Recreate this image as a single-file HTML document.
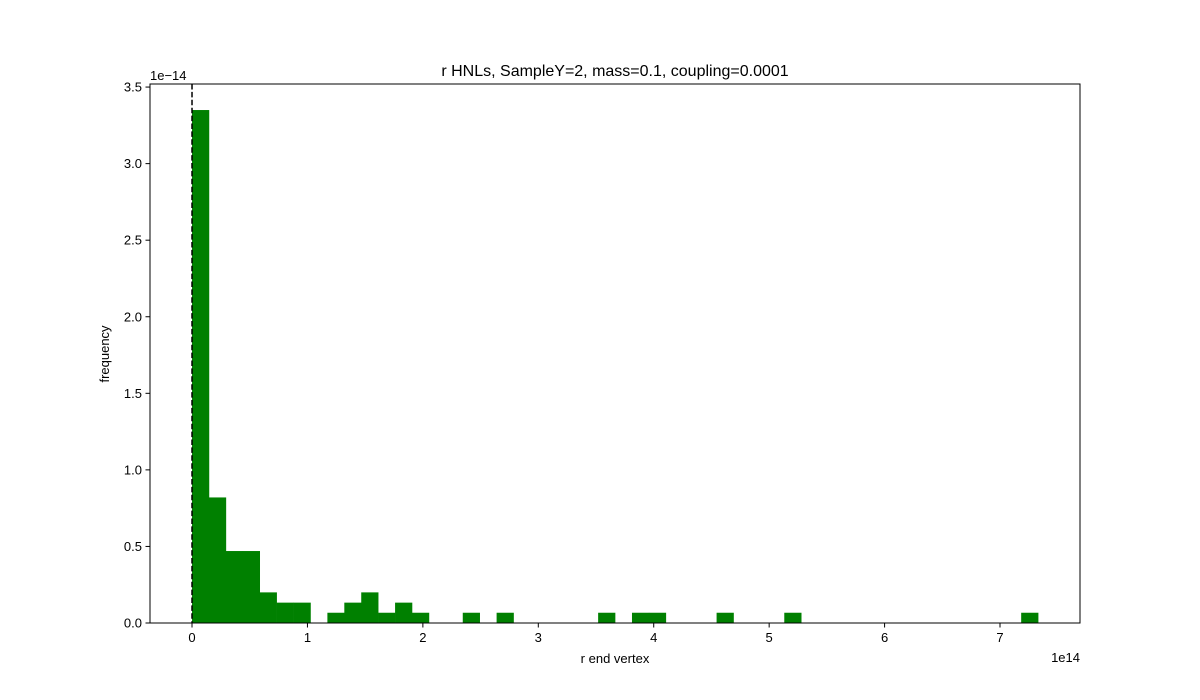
<!DOCTYPE html>
<html><head><meta charset="utf-8"><style>
html,body{margin:0;padding:0;background:#fff;}
svg{display:block;font-family:"Liberation Sans","DejaVu Sans",sans-serif;}
</style></head><body>
<svg id="chart" width="1200" height="700">
<rect width="1200" height="700" fill="#fff"/>
<g id="bars"></g>
<g id="axes"></g>
<text x="615" y="76" text-anchor="middle" font-size="16">r HNLs, SampleY=2, mass=0.1, coupling=0.0001</text>
<text x="615" y="663" text-anchor="middle" font-size="13">r end vertex</text>
<text transform="translate(109,354) rotate(-90)" text-anchor="middle" font-size="13">frequency</text>
<text x="150" y="80" font-size="13">1e−14</text>
<text x="1080" y="662" text-anchor="end" font-size="13">1e14</text>
</svg>
<script>
const binValues = [3.35,0.82,0.47,0.47,0.2,0.133,0.133,0,0.067,0.133,0.2,0.067,0.133,0.067,0,0,0.067,0,0.067,0,0,0,0,0,0.067,0,0.067,0.067,0,0,0,0.067,0,0,0,0.067,0,0,0,0,0,0,0,0,0,0,0,0,0,0.067];
const binStart = 0;
const binEnd = 7.33;
const xTicks = [0,1,2,3,4,5,6,7];
const yTicks = [0,0.5,1.0,1.5,2.0,2.5,3.0,3.5];

const L=150,R=1080,T=84,B=623;
const xMin=-0.364,xMax=7.693,yMin=0,yMax=3.52;
const xs=v=>L+(v-xMin)/(xMax-xMin)*(R-L);
const ys=v=>B-(v-yMin)/(yMax-yMin)*(B-T);
const NS="http://www.w3.org/2000/svg";
const bars=document.getElementById('bars');
const axes=document.getElementById('axes');
const w=(binEnd-binStart)/binValues.length;
binValues.forEach((v,i)=>{
  if(v<=0)return;
  const r=document.createElementNS(NS,'rect');
  const x0=xs(binStart+i*w),x1=xs(binStart+(i+1)*w);
  r.setAttribute('x',x0);r.setAttribute('width',x1-x0+0.3);
  r.setAttribute('y',ys(v));r.setAttribute('height',ys(0)-ys(v));
  r.setAttribute('fill','#008000');
  
  
  bars.appendChild(r);
});
const dl=document.createElementNS(NS,'line');
dl.setAttribute('x1',xs(0));dl.setAttribute('x2',xs(0));dl.setAttribute('y1',T);dl.setAttribute('y2',B);
dl.setAttribute('stroke','#000');dl.setAttribute('stroke-width','1.5');dl.setAttribute('stroke-dasharray','5.5,2.4');


axes.appendChild(dl);
const frame=document.createElementNS(NS,'rect');
frame.setAttribute('x',L);frame.setAttribute('y',T);frame.setAttribute('width',R-L);frame.setAttribute('height',B-T);
frame.setAttribute('fill','none');frame.setAttribute('stroke','#000');frame.setAttribute('stroke-width','1');


axes.appendChild(frame);
xTicks.forEach(t=>{
  const x=xs(t);
  const l=document.createElementNS(NS,'line');
  l.setAttribute('x1',x);l.setAttribute('x2',x);l.setAttribute('y1',B);l.setAttribute('y2',B+4.5);l.setAttribute('stroke','#000');
  
  
  axes.appendChild(l);
  const tx=document.createElementNS(NS,'text');
  tx.setAttribute('x',x);tx.setAttribute('y',B+19);tx.setAttribute('text-anchor','middle');tx.setAttribute('font-size','13');
  tx.textContent=t;
  
  
  axes.appendChild(tx);
});
yTicks.forEach(t=>{
  const y=ys(t);
  const l=document.createElementNS(NS,'line');
  l.setAttribute('x1',L-4.5);l.setAttribute('x2',L);l.setAttribute('y1',y);l.setAttribute('y2',y);l.setAttribute('stroke','#000');
  
  
  axes.appendChild(l);
  const tx=document.createElementNS(NS,'text');
  tx.setAttribute('x',L-8);tx.setAttribute('y',y+4.5);tx.setAttribute('text-anchor','end');tx.setAttribute('font-size','13');
  tx.textContent=t.toFixed(1);
  
  
  axes.appendChild(tx);
});
</script>
</body></html>
